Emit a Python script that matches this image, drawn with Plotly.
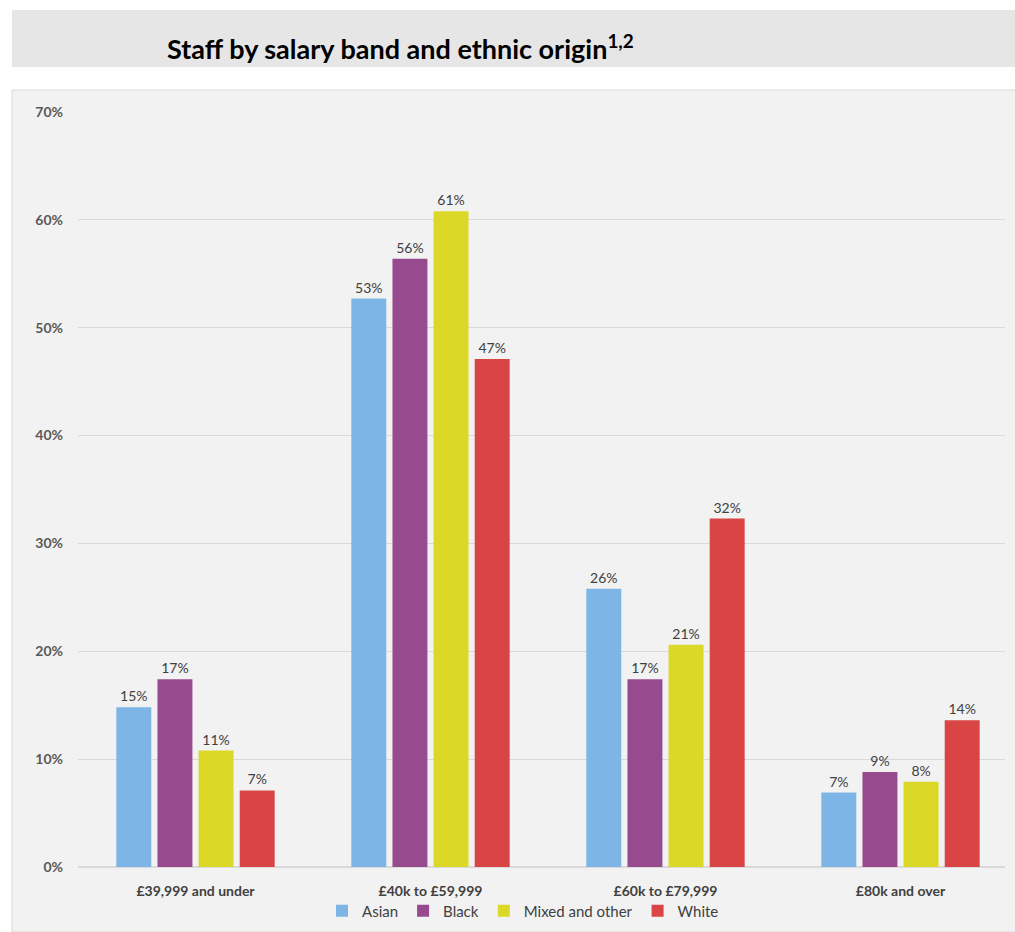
import plotly.graph_objects as go

categories = ["£39,999 and under", "£40k to £59,999", "£60k to £79,999", "£80k and over"]
series_names = ["Asian", "Black", "Mixed and other", "White"]
asian = [14.8, 52.7, 25.8, 6.9]
black = [17.4, 56.4, 17.4, 8.8]
mixed = [10.8, 60.8, 20.6, 7.9]
white = [7.1, 47.1, 32.3, 13.6]
colors = ["#7cb5e6", "#984a8f", "#dcd827", "#d94545"]

W, H = 1015, 932
L, R, T, B = 78, 10, 112, 65
pw, ph = W - L - R, H - T - B

def px_x(p):
    return (p - L) / pw

def px_y(p):
    return (H - B - p) / ph

fig = go.Figure()
for name, vals, col in zip(series_names, [asian, black, mixed, white], colors):
    fig.add_trace(go.Bar(
        name=name, x=categories, y=vals, marker=dict(color=col, line=dict(width=0)),
        text=[f"{round(v)}%" for v in vals], textposition="outside",
        textfont=dict(family="Lato, Open Sans, sans-serif", size=14, color="#404040"),
        cliponaxis=False,
    ))

fig.update_layout(
    width=W, height=H,
    margin=dict(l=L, r=R, t=T, b=B, autoexpand=False),
    paper_bgcolor="white", plot_bgcolor="rgba(0,0,0,0)",
    barmode="group", bargap=0.30, bargroupgap=0.15,
    font=dict(family="Lato, Open Sans, sans-serif", color="#404040"),
    showlegend=True,
    legend=dict(orientation="h", x=px_x(523), xanchor="center", y=px_y(911), yanchor="middle",
                font=dict(size=15, color="#404040"), bgcolor="rgba(0,0,0,0)",
                itemwidth=30, traceorder="normal", tracegroupgap=0),
    shapes=[
        dict(type="rect", xref="paper", yref="paper", x0=px_x(12), x1=px_x(1040), y0=px_y(932), y1=px_y(90),
             fillcolor="#f2f2f2", line=dict(color="#d9d9d9", width=1), layer="below"),
        dict(type="rect", xref="paper", yref="paper", x0=px_x(12), x1=px_x(1040), y0=px_y(67), y1=px_y(10),
             fillcolor="#e6e6e6", line=dict(width=0), layer="below"),
    ],
    annotations=[
        dict(xref="paper", yref="paper", x=px_x(165), y=px_y(47), xanchor="left", yanchor="middle",
             text="<b>Staff by salary band and ethnic origin<sup>1,2</sup></b>", showarrow=False,
             font=dict(family="Lato, Open Sans, sans-serif", size=27, color="#000000")),
    ],
)
fig.update_xaxes(type="category", range=[-0.5, -0.5 + pw / 235], showgrid=False, showline=False,
                 ticks="", automargin=False, ticklabelstandoff=14,
                 tickfont=dict(size=14, color="#404040", weight="bold"))
fig.update_yaxes(range=[0, 70], dtick=10, ticksuffix="%", showgrid=True, gridcolor="#d9d9d9",
                 gridwidth=1, zeroline=True, zerolinecolor="#d9d9d9", zerolinewidth=2, automargin=False,
                 tickfont=dict(size=14, color="#595959", weight="bold"), ticklabelstandoff=14)

fig.write_html("out.html")
